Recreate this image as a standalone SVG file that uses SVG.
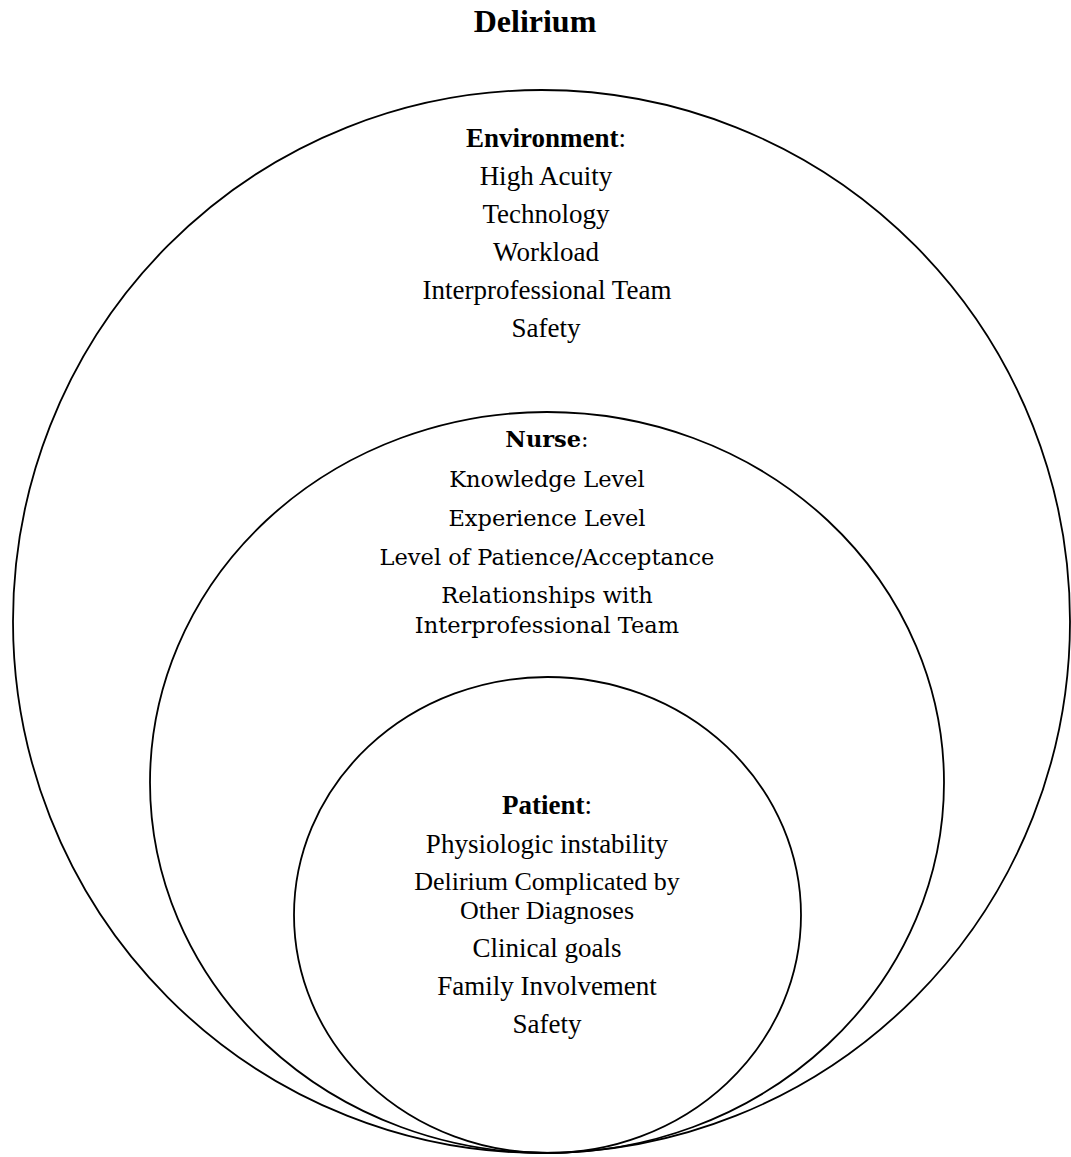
<svg xmlns="http://www.w3.org/2000/svg" width="1071" height="1157" viewBox="0 0 1071 1157">
<style>
.ring{fill:none;stroke:#000;stroke-width:1.8}
.t{font-family:"Liberation Serif","Times New Roman",serif;font-size:27px;fill:#000;text-anchor:middle}
.c{font-family:"DejaVu Serif","Liberation Serif",serif;font-size:22.5px;fill:#000;text-anchor:middle}
.b{font-weight:bold}
.title{font-family:"Liberation Serif","Times New Roman",serif;font-size:32px;font-weight:bold;fill:#000;text-anchor:middle}
</style>
<rect width="1071" height="1157" fill="#fff"/>
<text class="title" x="535" y="32">Delirium</text>
<g id="environment">
<ellipse class="ring" cx="541.5" cy="621.5" rx="528.5" ry="531.5"/>
<text class="t" x="546" y="147"><tspan class="b">Environment</tspan>:</text>
<text class="t" x="546" y="185">High Acuity</text>
<text class="t" x="546" y="223">Technology</text>
<text class="t" x="546" y="261">Workload</text>
<text class="t" x="547" y="299">Interprofessional Team</text>
<text class="t" x="546" y="337">Safety</text>
</g>
<g id="nurse">
<ellipse class="ring" cx="547" cy="782.5" rx="397" ry="370.5"/>
<text class="c" x="547" y="447"><tspan class="b">Nurse</tspan>:</text>
<text class="c" x="547" y="487">Knowledge Level</text>
<text class="c" x="547" y="526">Experience Level</text>
<text class="c" x="547" y="565">Level of Patience/Acceptance</text>
<text class="c" x="547" y="603">Relationships with</text>
<text class="c" x="547" y="633">Interprofessional Team</text>
</g>
<g id="patient">
<ellipse class="ring" cx="547.5" cy="915" rx="253.5" ry="238"/>
<text class="t" x="547" y="814"><tspan class="b">Patient</tspan>:</text>
<text class="t" x="547" y="853">Physiologic instability</text>
<text class="t" x="547" y="890" style="font-size:26px">Delirium Complicated by</text>
<text class="t" x="547" y="919" style="font-size:26px">Other Diagnoses</text>
<text class="t" x="547" y="957">Clinical goals</text>
<text class="t" x="547" y="995">Family Involvement</text>
<text class="t" x="547" y="1033">Safety</text>
</g>
<g id="connectors"/>
</svg>
